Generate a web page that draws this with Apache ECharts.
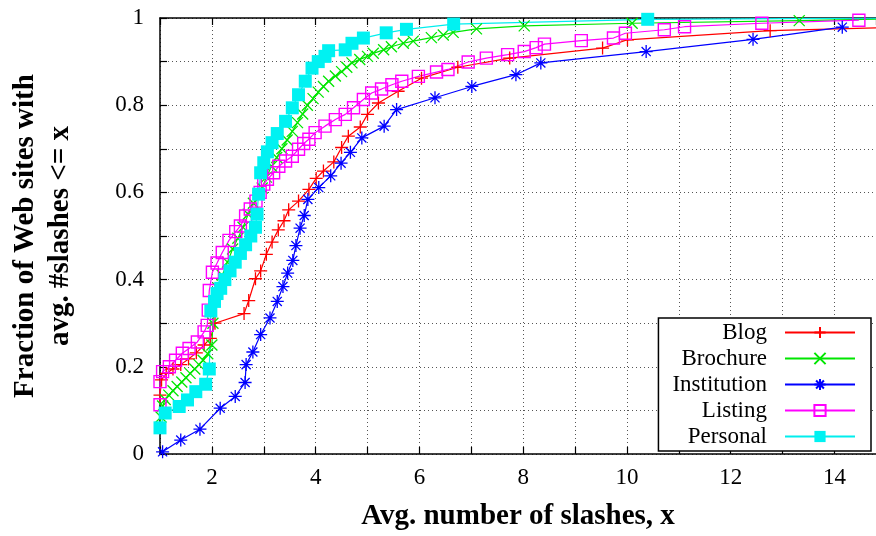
<!DOCTYPE html>
<html>
<head>
<meta charset="utf-8">
<script src="https://cdn.jsdelivr.net/npm/echarts@6/dist/echarts.min.js"></script>
<style>html,body{margin:0;padding:0;background:#fff;}#c{width:876px;height:536px;}</style>
</head>
<body>
<div id="c"></div>
<script>
const seriesNames = ['Blog', 'Brochure', 'Institution', 'Listing', 'Personal'];

const blog = [[1.0,0.135],[1.03,0.17],[1.12,0.185],[1.25,0.195],[1.4,0.205],[1.55,0.218],[1.7,0.232],[1.85,0.25],[1.97,0.265],[2.06,0.30],[2.62,0.322],[2.71,0.352],[2.84,0.402],[2.94,0.42],[3.05,0.458],[3.16,0.486],[3.28,0.514],[3.39,0.535],[3.48,0.56],[3.67,0.58],[3.87,0.607],[4.01,0.632],[4.15,0.649],[4.35,0.67],[4.50,0.703],[4.63,0.729],[4.86,0.75],[5.0,0.779],[5.21,0.805],[5.59,0.832],[6.04,0.862],[6.74,0.887],[7.74,0.908],[9.53,0.931],[10.01,0.95],[12.76,0.971],[15.0,0.978]];

const brochure = [[1.0,0.06],[1.02,0.085],[1.05,0.11],[1.1,0.125],[1.17,0.135],[1.25,0.145],[1.33,0.155],[1.42,0.165],[1.5,0.175],[1.58,0.185],[1.67,0.195],[1.75,0.205],[1.83,0.215],[1.92,0.23],[2.0,0.25],[2.02,0.3],[2.05,0.35],[2.12,0.38],[2.2,0.41],[2.3,0.44],[2.4,0.47],[2.5,0.495],[2.6,0.52],[2.7,0.55],[2.8,0.575],[2.9,0.595],[2.97,0.61],[3.05,0.635],[3.15,0.66],[3.25,0.68],[3.35,0.7],[3.45,0.72],[3.55,0.74],[3.65,0.76],[3.75,0.78],[3.84,0.8],[3.95,0.815],[4.05,0.83],[4.15,0.843],[4.25,0.855],[4.38,0.867],[4.5,0.877],[4.6,0.887],[4.7,0.897],[4.85,0.905],[5.0,0.912],[5.11,0.919],[5.31,0.927],[5.46,0.934],[5.69,0.942],[5.88,0.947],[6.23,0.955],[6.46,0.961],[6.65,0.967],[7.10,0.975],[8.02,0.982],[10.1,0.988],[13.32,0.994],[15.0,0.998]];

const institution = [[1.05,0.005],[1.40,0.032],[1.77,0.057],[2.16,0.105],[2.45,0.132],[2.64,0.164],[2.66,0.205],[2.79,0.234],[2.94,0.274],[3.12,0.312],[3.26,0.35],[3.37,0.384],[3.46,0.415],[3.56,0.444],[3.62,0.478],[3.70,0.518],[3.78,0.547],[3.85,0.584],[4.06,0.611],[4.29,0.638],[4.49,0.667],[4.67,0.692],[4.89,0.725],[5.32,0.752],[5.56,0.79],[6.30,0.817],[7.01,0.843],[7.86,0.87],[8.34,0.897],[10.37,0.923],[12.43,0.951],[14.15,0.979]];

const listing = [[1.0,0.113],[1.0,0.166],[1.05,0.189],[1.18,0.2],[1.3,0.215],[1.43,0.231],[1.56,0.242],[1.72,0.257],[1.85,0.28],[1.91,0.295],[1.93,0.33],[1.95,0.375],[2.01,0.417],[2.1,0.438],[2.2,0.462],[2.33,0.49],[2.46,0.51],[2.55,0.523],[2.65,0.546],[2.74,0.562],[2.85,0.58],[2.93,0.6],[3.0,0.619],[3.07,0.63],[3.19,0.645],[3.29,0.66],[3.42,0.672],[3.55,0.683],[3.67,0.699],[3.77,0.712],[3.87,0.722],[3.99,0.737],[4.18,0.752],[4.38,0.767],[4.57,0.779],[4.73,0.794],[4.92,0.813],[5.08,0.828],[5.27,0.837],[5.47,0.847],[5.66,0.855],[5.98,0.866],[6.33,0.876],[6.55,0.882],[6.94,0.899],[7.29,0.908],[7.70,0.916],[8.02,0.923],[8.25,0.932],[8.41,0.94],[9.12,0.948],[9.74,0.954],[9.97,0.965],[10.72,0.973],[11.11,0.98],[12.6,0.988],[14.47,0.995]];

const personal = [[1.0,0.06],[1.1,0.094],[1.37,0.109],[1.53,0.124],[1.69,0.143],[1.88,0.16],[1.95,0.195],[1.98,0.328],[2.05,0.35],[2.1,0.368],[2.17,0.38],[2.25,0.40],[2.35,0.42],[2.45,0.44],[2.55,0.46],[2.65,0.48],[2.75,0.50],[2.84,0.52],[2.87,0.55],[2.9,0.596],[2.94,0.645],[3.0,0.668],[3.07,0.693],[3.16,0.714],[3.26,0.735],[3.42,0.763],[3.55,0.794],[3.67,0.824],[3.80,0.855],[3.93,0.885],[4.05,0.9],[4.18,0.912],[4.25,0.925],[4.57,0.927],[4.7,0.942],[4.92,0.954],[5.36,0.966],[5.75,0.974],[6.66,0.986],[10.4,0.997],[15.0,1.0]];

const xTickLabels = ['2','4','6','8','10','12','14'];
const yTickLabels = ['0','0.2','0.4','0.6','0.8','1'];

const FONT = 'Liberation Serif';
const PLUS = 'path://M0,5H10M5,0V10';
const CROSS = 'path://M0,0L10,10M10,0L0,10';
const STAR = 'path://M0,5H10M5,0V10M1.5,1.5L8.5,8.5M8.5,1.5L1.5,8.5';

function strokeSeries(name, data, color, symbol, size) {
  return {
    name, type: 'line', data, symbol, symbolSize: size, clip: true,
    lineStyle: { color, width: 1.2 },
    itemStyle: { color, borderColor: color, borderWidth: 1.3 },
    emphasis: { disabled: true }, z: 2
  };
}

const chart = echarts.init(document.getElementById('c'), null, { renderer: 'canvas' });
const gridLine = { show: true, lineStyle: { color: '#555', type: [1, 3], width: 1 } };

chart.setOption({
  animation: false,
  backgroundColor: '#fff',
  grid: { left: 157, top: 18, right: 0, bottom: 80, containLabel: false },
  legend: {
    orient: 'vertical', right: 5, top: 318, align: 'right',
    itemWidth: 70, itemHeight: 14, itemGap: 3,
    padding: [3, 15, 3, 14],
    backgroundColor: '#fff', borderColor: '#000', borderWidth: 1.5,
    textStyle: { fontFamily: FONT, fontSize: 23, color: '#000', padding: [0, 13, 0, 0] },
    data: seriesNames
  },
  xAxis: [{
    type: 'value', min: 1, max: 14.8, interval: 1, position: 'bottom',
    name: 'Avg. number of slashes, x', nameLocation: 'middle', nameGap: 48,
    nameTextStyle: { fontFamily: FONT, fontSize: 29, fontWeight: 'bold', color: '#000' },
    axisLine: { show: true, onZero: false, lineStyle: { color: '#000', width: 1.5 } },
    axisTick: { show: true, inside: true, length: 7, lineStyle: { color: '#000', width: 1.2 } },
    axisLabel: {
      margin: 12, fontFamily: FONT, fontSize: 23, color: '#000', showMaxLabel: false,
      formatter: v => { const s = String(Math.round(v)); return (Math.abs(v - Math.round(v)) < 1e-6 && xTickLabels.includes(s)) ? s : ''; }
    },
    splitLine: gridLine
  }, {
    type: 'value', min: 1, max: 14.8, interval: 1, position: 'top',
    axisLine: { show: true, onZero: false, lineStyle: { color: '#000', width: 1.5 } },
    axisTick: { show: true, inside: true, length: 7, lineStyle: { color: '#000', width: 1.2 } },
    axisLabel: { show: false }, splitLine: { show: false }
  }],
  yAxis: {
    type: 'value', min: 0, max: 1, interval: 0.1,
    name: 'Fraction of Web sites with\navg. #slashes <= x', nameLocation: 'middle', nameGap: 82,
    nameTextStyle: { fontFamily: FONT, fontSize: 29, fontWeight: 'bold', color: '#000', lineHeight: 35 },
    axisLine: { show: true, onZero: false, lineStyle: { color: '#000', width: 1.5 } },
    axisTick: { show: true, inside: true, length: 7, lineStyle: { color: '#000', width: 1.2 } },
    axisLabel: {
      margin: 16, fontFamily: FONT, fontSize: 23, color: '#000',
      formatter: v => { const k = Math.round(v * 10); return k % 2 === 0 ? yTickLabels[k / 2] : ''; }
    },
    splitLine: gridLine
  },
  series: [
    strokeSeries('Blog', blog, '#ff0000', PLUS, 13),
    strokeSeries('Brochure', brochure, '#00e600', CROSS, 11),
    strokeSeries('Institution', institution, '#0000ff', STAR, 13),
    {
      name: 'Listing', type: 'line', data: listing, symbol: 'rect', symbolSize: 12, clip: true,
      lineStyle: { color: '#ff00ff', width: 1.2 },
      itemStyle: { color: 'rgba(255,255,255,0)', borderColor: '#ff00ff', borderWidth: 1.4 },
      emphasis: { disabled: true }, z: 2
    },
    {
      name: 'Personal', type: 'line', data: personal, symbol: 'rect', symbolSize: 13, clip: true,
      lineStyle: { color: '#00eeee', width: 1.2 },
      itemStyle: { color: '#00f2f2' },
      emphasis: { disabled: true }, z: 2
    }
  ]
});
</script>
</body>
</html>
